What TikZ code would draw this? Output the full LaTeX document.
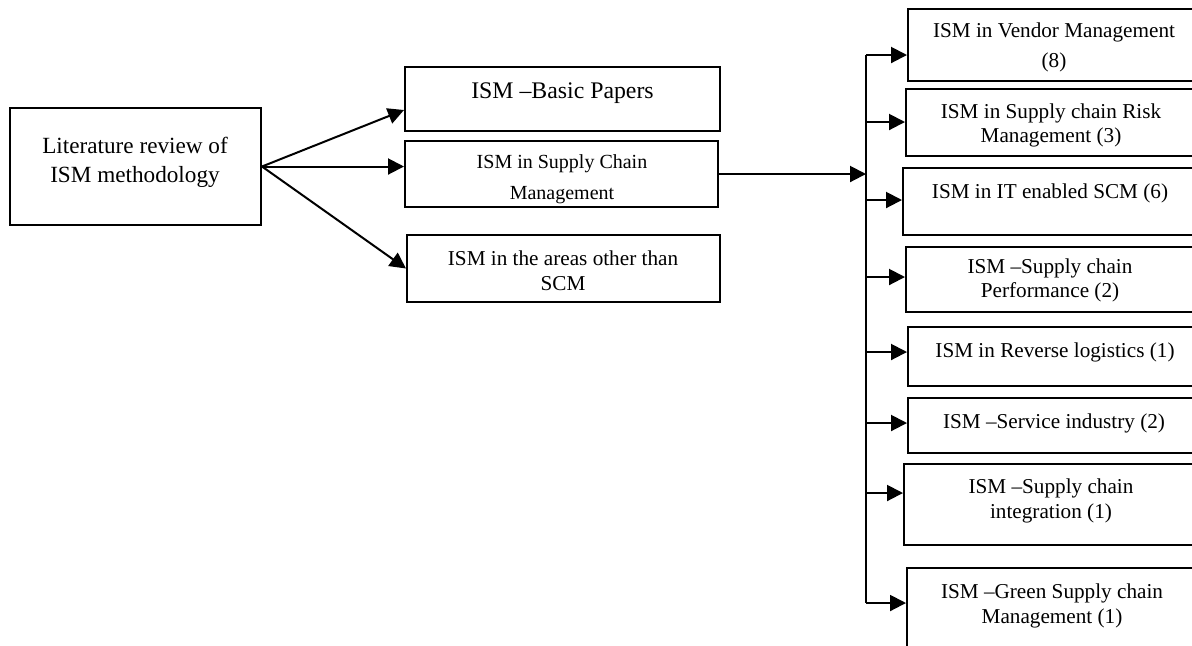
\documentclass[tikz,border=0pt]{standalone}
\usepackage{fontspec}
\setmainfont{Liberation Serif}
\usetikzlibrary{arrows.meta, positioning}

\begin{document}
\begin{tikzpicture}[x=0.5pt, y=-0.5pt,
  box/.style={draw, line width=1pt, inner sep=0pt},
  txt/.style={align=center, inner sep=0pt},
  arr/.style={-{Triangle[length=8pt, width=8pt]}, line width=1pt}]

\clip (0,0) rectangle (1192,645);

% --- Left: root and first level ---
\node[box, minimum width=125.5pt, minimum height=58.5pt] (lit) at (135.5,166.5) {};
\node[txt, font=\fontsize{11.6}{14.5}\selectfont] (lit-txt) at (135,162.5)
      {Literature review of\\ISM methodology};

\node[box, minimum width=157.5pt, minimum height=32pt] (basic) at (562.5,99) {};
\node[txt, font=\fontsize{11.9}{14}\selectfont] (basic-txt) at (562.5,93) {ISM --Basic Papers};

\node[box, minimum width=156.5pt, minimum height=33pt] (scm) at (561.5,174) {};
\node[txt, font=\fontsize{10}{15.5}\selectfont] (scm-txt) at (562,179.5)
      {ISM in Supply Chain\\Management};

\node[box, minimum width=156.5pt, minimum height=33.5pt] (other) at (563.5,268.5) {};
\node[txt, font=\fontsize{10.6}{12.5}\selectfont] (other-txt) at (563,270.5)
      {ISM in the areas other than\\SCM};

\draw[arr] (lit.east) -- ([yshift=-5.5pt]basic.west);
\draw[arr] (lit.east) -- (lit.east -| scm.west);
\draw[arr] (lit.east) -- (other.west);

% --- Right: SCM branches ---
\node[box, minimum width=146pt, minimum height=36pt] (r1) at (1054,45) {};
\node[txt, font=\fontsize{10.6}{15}\selectfont] (r1-txt) at (1054,47)
      {ISM in Vendor Management\\(8)};

\node[box, minimum width=147pt, minimum height=33.5pt] (r2) at (1053,122.5) {};
\node[txt, font=\fontsize{10.6}{12}\selectfont] (r2-txt) at (1051,125)
      {ISM in Supply chain Risk\\Management (3)};

\node[box, minimum width=148.5pt, minimum height=33.5pt] (r3) at (1051.5,201.5) {};
\node[txt, font=\fontsize{10.6}{12}\selectfont] (r3-txt) at (1050,193) {ISM in IT enabled SCM (6)};

\node[box, minimum width=147pt, minimum height=32.5pt] (r4) at (1053,279.5) {};
\node[txt, font=\fontsize{10.6}{12}\selectfont] (r4-txt) at (1050,280)
      {ISM --Supply chain\\Performance (2)};

\node[box, minimum width=146pt, minimum height=29.5pt] (r5) at (1054,356.5) {};
\node[txt, font=\fontsize{10.6}{12}\selectfont] (r5-txt) at (1055,352) {ISM in Reverse logistics (1)};

\node[box, minimum width=146pt, minimum height=27.5pt] (r6) at (1054,425.5) {};
\node[txt, font=\fontsize{10.6}{12}\selectfont] (r6-txt) at (1054,423) {ISM --Service industry (2)};

\node[box, minimum width=148pt, minimum height=40.5pt] (r7) at (1052,504.5) {};
\node[txt, font=\fontsize{10.6}{12.5}\selectfont] (r7-txt) at (1051,500.5)
      {ISM --Supply chain\\integration (1)};

\node[box, minimum width=146.5pt, minimum height=51pt] (r8) at (1053.5,619) {};
\node[txt, font=\fontsize{10.6}{12.5}\selectfont] (r8-txt) at (1052,605.5)
      {ISM --Green Supply chain\\Management (1)};

% bus line
\coordinate (bus-top) at (866,55);
\coordinate (bus-bot) at (866,603);
\draw[line width=1pt] (bus-top) -- (bus-bot);
\draw[arr] (scm.east) -- (scm.east -| bus-top);

\foreach \n/\y in {r1/55, r2/122, r3/200, r4/277, r5/352, r6/423, r7/493, r8/603} {
  \coordinate (b-\n) at (866,\y);
  \draw[arr] (b-\n) -- (b-\n -| \n.west);
}

\end{tikzpicture}
\end{document}
